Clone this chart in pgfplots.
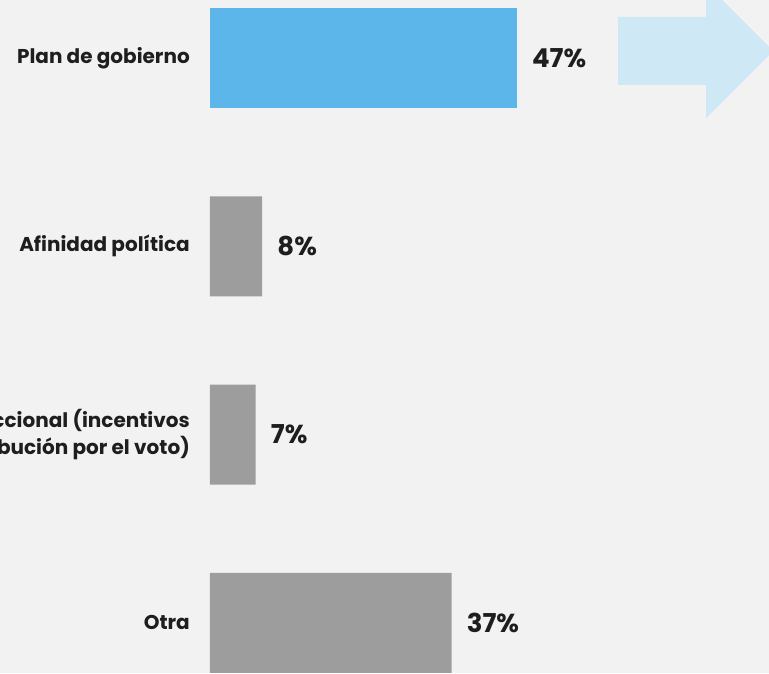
\documentclass[border=0pt]{standalone}
\usepackage{fontspec}
\setmainfont{Poppins}
\usepackage{pgfplots}
\pgfplotsset{compat=1.18}
\definecolor{bgc}{HTML}{F2F2F2}
\definecolor{bluebar}{HTML}{5DB6E9}
\definecolor{graybar}{HTML}{9D9D9D}
\definecolor{arrowc}{HTML}{CEE8F6}
\definecolor{txt}{HTML}{1E1E1E}
\begin{document}
\begin{tikzpicture}
\fill[bgc] (0pt,0pt) rectangle (769pt,673pt);
% decorative arrow
\fill[arrowc] (618pt,656pt) -- (706pt,656pt) -- (706pt,689pt) -- (773pt,622pt)
  -- (706pt,555pt) -- (706pt,588pt) -- (618pt,588pt) -- cycle;
\begin{axis}[
  at={(210pt,0pt)}, anchor=south west,
  scale only axis, width=559pt, height=673pt,
  xmin=0, xmax=85.6, ymin=-0.266, ymax=3.308,
  xbar, bar shift=0pt, bar width=0.531,
  axis line style={draw=none},
  major tick length=0pt,
  xtick=\empty,
  ytick={0,1,2,3},
  yticklabels={Otra,{Transaccional (incentivos\\o retribución por el voto)},Afinidad política,Plan de gobierno},
  yticklabel style={font=\fontsize{20}{27}\selectfont\bfseries, text=txt, align=right, anchor=east, inner sep=0pt, xshift=-20pt},
  point meta=x,
  nodes near coords={\pgfmathprintnumber[assume math mode=true]{\pgfplotspointmeta}\%},
  every node near coord/.append style={font=\fontsize{26}{30}\selectfont\bfseries, text=txt, anchor=west, inner sep=0pt, xshift=15pt},
]
\addplot[fill=bluebar, draw=none] coordinates {(47,3)};
\addplot[fill=graybar, draw=none] coordinates {(8,2) (7,1) (37,0)};
\end{axis}
\pgfresetboundingbox
\path[use as bounding box] (0pt,0pt) rectangle (769pt,673pt);
\end{tikzpicture}
\end{document}
